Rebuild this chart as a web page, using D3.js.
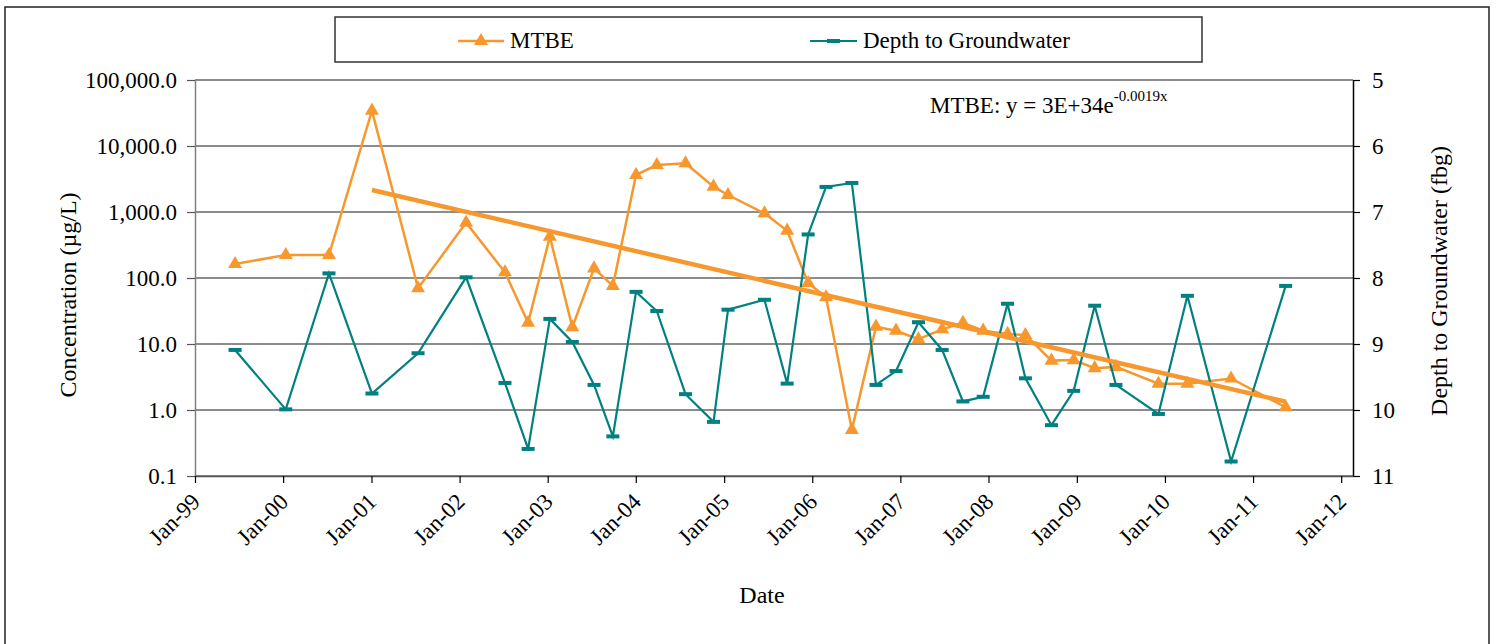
<!DOCTYPE html>
<html>
<head>
<meta charset="utf-8">
<script src="https://cdn.jsdelivr.net/npm/d3@7"></script>
<style>
    body { margin: 0; background: #fff; }
    text { font-family: "Liberation Serif", "Times New Roman", serif; fill: #000; }
</style>
</head>
<body>
<div id="chart"></div>
<script>
// sampling dates (shared by both series)
const sampleDates = [
    "1999-06-16", "2000-01-12", "2000-07-09", "2001-01-03", "2001-07-13", "2002-01-28",
    "2002-07-08", "2002-10-12", "2003-01-10", "2003-04-13", "2003-07-12", "2003-09-28",
    "2004-01-02", "2004-03-28", "2004-07-25", "2004-11-18", "2005-01-17", "2005-06-17",
    "2005-09-19", "2005-12-15", "2006-02-27", "2006-06-14", "2006-09-22", "2006-12-14",
    "2007-03-17", "2007-06-23", "2007-09-17", "2007-12-10", "2008-03-20", "2008-06-02",
    "2008-09-18", "2008-12-19", "2009-03-16", "2009-06-12", "2009-12-05", "2010-04-04",
    "2010-10-02", "2011-05-16"
]
// MTBE concentration, ug/L
const mtbeValues = [
    163, 223, 223, 34300, 70, 690,
    122, 21, 423, 18, 140, 76,
    3640, 5150, 5470, 2420, 1810, 955,
    521, 84, 51, 0.5, 18.3, 15.9,
    11.8, 16.7, 21, 15.9, 14.2, 13.7,
    5.6, 5.7, 4.3, 4.5, 2.5, 2.5,
    3.0, 1.1
]
// depth to groundwater, fbg
const depthValues = [
    9.09, 9.99, 7.93, 9.75, 9.14, 7.99,
    9.59, 10.59, 8.62, 8.97, 9.62, 10.40,
    8.21, 8.50, 9.76, 10.18, 8.48, 8.33,
    9.60, 7.34, 6.62, 6.56, 9.62, 9.41,
    8.67, 9.09, 9.87, 9.80, 8.39, 9.52,
    10.23, 9.71, 8.42, 9.62, 10.06, 8.27,
    10.78, 8.12
]
// exponential trendline end points (MTBE)
const trendDates = ["2001-01-03", "2011-05-16"]
const trendValues = [2155, 1.34]

const concTicks = [0.1, 1, 10, 100, 1000, 10000, 100000]
const depthTicks = [5, 6, 7, 8, 9, 10, 11]
const yearTicks = ["1999", "2000", "2001", "2002", "2003", "2004", "2005",
    "2006", "2007", "2008", "2009", "2010", "2011", "2012"]

const width = 1498
const height = 644
const orange = "#f7982f"
const teal = "#008080"
const plotLeft = 195, plotRight = 1353, plotTop = 80, plotBottom = 476

const parseDate = d3.timeParse("%Y-%m-%d")

const svg = d3.select("#chart")
    .append("svg")
    .attr("width", width)
    .attr("height", height)

svg.append("rect")
    .attr("x", 5).attr("y", 7)
    .attr("width", 1484).attr("height", 660)
    .attr("fill", "#fff")
    .attr("stroke", "#222")
    .attr("stroke-width", 1.5)

const x = d3.scaleTime()
    .domain([new Date(1999, 0, 1), new Date(2012, 1, 19)])
    .range([plotLeft, plotRight])
const yL = d3.scaleLog()
    .domain([0.1, 100000])
    .range([plotBottom, plotTop])
const yR = d3.scaleLinear()
    .domain([5, 11])
    .range([plotTop, plotBottom])

// gridlines
svg.append("g")
    .selectAll("line")
    .data(concTicks)
    .join("line")
    .attr("x1", plotLeft).attr("x2", plotRight)
    .attr("y1", d => yL(d)).attr("y2", d => yL(d))
    .attr("stroke", "#666")
    .attr("stroke-width", 1.5)

// left axis
const gL = svg.append("g")
    .attr("transform", "translate(" + plotLeft + ",0)")
    .call(d3.axisLeft(yL).tickValues(concTicks).tickFormat(d3.format(",.1f")).tickSize(8).tickSizeOuter(0).tickPadding(10))
gL.select(".domain").attr("stroke", "#808080").attr("stroke-width", 1.5)
gL.selectAll(".tick line").attr("stroke", "#555").attr("stroke-width", 1.2)
gL.selectAll("text").attr("font-size", "23px").attr("font-family", "Liberation Serif").attr("fill", "#000")

// right axis
const gR = svg.append("g")
    .attr("transform", "translate(" + plotRight + ",0)")
    .call(d3.axisRight(yR).tickValues(depthTicks).tickFormat(d3.format("d")).tickSize(7).tickSizeOuter(0).tickPadding(12))
gR.select(".domain").attr("stroke", "#000").attr("stroke-width", 1.5)
gR.selectAll(".tick line").attr("stroke", "#000").attr("stroke-width", 1.2)
gR.selectAll("text").attr("font-size", "23px").attr("font-family", "Liberation Serif").attr("fill", "#000")

// bottom axis
const gB = svg.append("g")
    .attr("transform", "translate(0," + plotBottom + ")")
    .call(d3.axisBottom(x).tickValues(yearTicks.map(y => new Date(+y, 0, 1))).tickFormat(d3.timeFormat("%b-%y")).tickSize(7).tickSizeOuter(0))
gB.select(".domain").attr("stroke", "#555").attr("stroke-width", 1.5)
gB.selectAll(".tick line").attr("stroke", "#000").attr("stroke-width", 1.2)
gB.selectAll("text")
    .attr("font-size", "23px")
    .attr("font-family", "Liberation Serif")
    .attr("fill", "#000")
    .attr("text-anchor", "end")
    .attr("dy", 0)
    .attr("y", 0)
    .attr("transform", "translate(6,27) rotate(-45)")

// MTBE series
const mtbe = sampleDates.map((d, i) => ({ date: parseDate(d), value: mtbeValues[i] }))
const depth = sampleDates.map((d, i) => ({ date: parseDate(d), value: depthValues[i] }))

svg.append("path")
    .datum(mtbe)
    .attr("fill", "none")
    .attr("stroke", orange)
    .attr("stroke-width", 2.5)
    .attr("d", d3.line().x(d => x(d.date)).y(d => yL(d.value)))

const tri = d3.symbol().type(d3.symbolTriangle).size(85)
svg.append("g")
    .selectAll("path")
    .data(mtbe)
    .join("path")
    .attr("d", tri)
    .attr("transform", d => "translate(" + x(d.date) + "," + yL(d.value) + ")")
    .attr("fill", orange)

// depth series
svg.append("path")
    .datum(depth)
    .attr("fill", "none")
    .attr("stroke", teal)
    .attr("stroke-width", 2.2)
    .attr("d", d3.line().x(d => x(d.date)).y(d => yR(d.value)))

svg.append("g")
    .selectAll("rect")
    .data(depth)
    .join("rect")
    .attr("x", d => x(d.date) - 6.5)
    .attr("y", d => yR(d.value) - 2)
    .attr("width", 13)
    .attr("height", 4)
    .attr("fill", teal)

// trendline
const trend = trendDates.map((d, i) => ({ date: parseDate(d), value: trendValues[i] }))
svg.append("path")
    .datum(trend)
    .attr("fill", "none")
    .attr("stroke", orange)
    .attr("stroke-width", 4.5)
    .attr("d", d3.line().x(d => x(d.date)).y(d => yL(d.value)))

const eq = svg.append("text")
    .attr("x", 930)
    .attr("y", 113)
    .attr("font-size", "23px")
eq.append("tspan").text("MTBE: y = 3E+34e")
eq.append("tspan").attr("dy", -12).attr("font-size", "15px").text("-0.0019x")

// axis titles
svg.append("text")
    .attr("transform", "translate(76,295) rotate(-90)")
    .attr("text-anchor", "middle")
    .attr("font-size", "24px")
    .text("Concentration (µg/L)")
svg.append("text")
    .attr("transform", "translate(1447,281) rotate(-90)")
    .attr("text-anchor", "middle")
    .attr("font-size", "24px")
    .text("Depth to Groundwater (fbg)")
svg.append("text")
    .attr("x", 762)
    .attr("y", 603)
    .attr("text-anchor", "middle")
    .attr("font-size", "24px")
    .text("Date")

// legend
const lg = svg.append("g")
lg.append("rect")
    .attr("x", 335).attr("y", 17)
    .attr("width", 867).attr("height", 45)
    .attr("fill", "#fff")
    .attr("stroke", "#333")
    .attr("stroke-width", 1.5)
lg.append("line")
    .attr("x1", 458).attr("x2", 504).attr("y1", 41).attr("y2", 41)
    .attr("stroke", orange).attr("stroke-width", 2.5)
lg.append("path")
    .attr("d", tri)
    .attr("transform", "translate(481,41)")
    .attr("fill", orange)
lg.append("text")
    .attr("x", 510).attr("y", 48)
    .attr("font-size", "23px")
    .text("MTBE")
lg.append("line")
    .attr("x1", 810).attr("x2", 857).attr("y1", 41).attr("y2", 41)
    .attr("stroke", teal).attr("stroke-width", 2.2)
lg.append("rect")
    .attr("x", 827).attr("y", 39).attr("width", 13).attr("height", 4)
    .attr("fill", teal)
lg.append("text")
    .attr("x", 863).attr("y", 48)
    .attr("font-size", "23px")
    .text("Depth to Groundwater")
</script>
</body>
</html>
